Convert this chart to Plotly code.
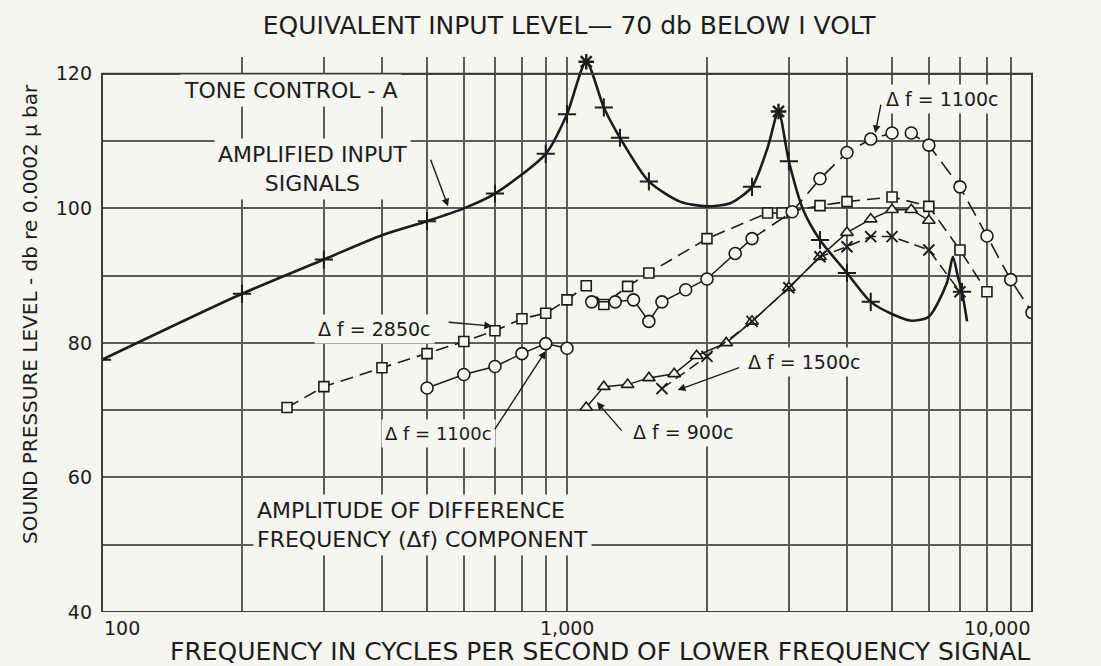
import numpy as np
import plotly.graph_objects as go

# ---------------- data ----------------
# Amplified input signals (tone control A) - smooth curve readings
input_line_f = [100, 200, 300, 400, 500, 600, 700, 900, 1000, 1100, 1200, 1300, 1500,
                1750, 2000, 2250, 2500, 2700, 2850, 3000, 3220, 3500, 4000, 4500, 5000,
                5500, 6000, 6560, 6760, 6930, 7070, 7250]
input_line_db = [77.5, 87.3, 92.4, 96.0, 98.1, 100.0, 102.2, 108.1, 114.0, 121.8, 115.0,
                 110.5, 104.0, 101.0, 100.3, 100.8, 103.2, 109.0, 114.4, 107.0, 99.8, 95.3,
                 90.4, 86.1, 84.3, 83.3, 83.9, 88.9, 92.8, 89.8, 87.6, 83.2]
# measured points on that curve
input_mark_f = [100, 200, 300, 500, 700, 900, 1000, 1200, 1300, 1500, 2500, 3000, 3500,
                4000, 4500, 7070]
input_mark_db = [77.5, 87.3, 92.4, 98.1, 102.2, 108.1, 114.0, 115.0, 110.5, 104.0, 103.2,
                 107.0, 95.3, 90.4, 86.1, 87.6]
input_peak_f = [1100, 2850]
input_peak_db = [121.8, 114.4]

# delta f = 2850 c (squares)
sq_f = [250, 300, 400, 500, 600, 700, 800, 900, 1000, 1100, 1200, 1350, 1500, 2000, 2700,
        2900, 3500, 4000, 5000, 6000, 7000, 8000]
sq_db = [70.4, 73.5, 76.3, 78.4, 80.2, 81.8, 83.6, 84.4, 86.4, 88.5, 85.7, 88.4, 90.4, 95.5,
         99.3, 99.3, 100.4, 101.0, 101.7, 100.3, 93.8, 87.6]

# delta f = 1100 c, low range (circles)
c1_f = [500, 600, 700, 800, 900, 1000]
c1_db = [73.3, 75.3, 76.5, 78.4, 79.9, 79.2]

# delta f = 1100 c, high range (circles)
c2_f = [1130, 1270, 1390, 1500, 1600, 1800, 2000, 2300, 2500, 3050, 3500, 4000, 4500,
        5000, 5500, 6000, 7000, 8000, 9000, 10000]
c2_db = [86.1, 86.1, 86.4, 83.2, 86.1, 87.9, 89.5, 93.3, 95.5, 99.5, 104.4, 108.3, 110.3,
         111.2, 111.2, 109.4, 103.2, 95.9, 89.4, 84.5]

# delta f = 900 c (triangles)
tr_f = [1100, 1200, 1350, 1500, 1700, 1900, 2200, 2500, 3000, 3500, 4000, 4500, 5000,
        5500, 6000]
tr_db = [70.4, 73.5, 73.8, 74.8, 75.4, 78.1, 80.0, 83.2, 88.2, 92.8, 96.4, 98.4, 99.8,
         99.8, 98.2]

# delta f = 1500 c (x marks)
xm_f = [1600, 2000, 2500, 3000, 3500, 4000, 4500, 5000, 6000, 7000]
xm_db = [73.2, 78.0, 83.2, 88.2, 92.8, 94.3, 95.8, 95.8, 93.8, 87.6]

x_tick_vals = [100, 1000, 10000]
x_tick_text = ["100", "1,000", "10,000"]
x_minor_vals = [200, 300, 400, 500, 600, 700, 800, 900,
                2000, 3000, 4000, 5000, 6000, 7000, 8000, 9000]
y_tick_vals = [40, 60, 80, 100, 120]

# ---------------- styling ----------------
BG = "#f5f5f2"
INK = "#1c1c1c"
GRID = "#5c5c5c"
FONT = "DejaVu Sans"

fig = go.Figure()


def open_marker(symbol, size):
    return dict(symbol=symbol, size=size, color=BG, line=dict(color=INK, width=1.6))


fig.add_trace(go.Scatter(x=sq_f, y=sq_db, mode="lines+markers", name="Δf = 2850c",
                         line=dict(color=INK, width=1.6, dash="13px,7px"),
                         marker=open_marker("square", 10), showlegend=False))
fig.add_trace(go.Scatter(x=c1_f, y=c1_db, mode="lines+markers", name="Δf = 1100c",
                         line=dict(color=INK, width=1.5),
                         marker=open_marker("circle", 12), showlegend=False))
split = c2_f.index(2500)
fig.add_trace(go.Scatter(x=c2_f[:split + 1], y=c2_db[:split + 1], mode="lines",
                         line=dict(color=INK, width=1.5), showlegend=False))
fig.add_trace(go.Scatter(x=c2_f[split:], y=c2_db[split:], mode="lines",
                         line=dict(color=INK, width=1.6, dash="16px,8px"), showlegend=False))
fig.add_trace(go.Scatter(x=c2_f, y=c2_db, mode="markers", name="Δf = 1100c",
                         marker=open_marker("circle", 12), showlegend=False))
fig.add_trace(go.Scatter(x=tr_f, y=tr_db, mode="lines+markers", name="Δf = 900c",
                         line=dict(color=INK, width=1.5),
                         marker=open_marker("triangle-up", 11), showlegend=False))
fig.add_trace(go.Scatter(x=xm_f, y=xm_db, mode="lines+markers", name="Δf = 1500c",
                         line=dict(color=INK, width=1.5, dash="11px,6px"),
                         marker=dict(symbol="x-thin", size=11, line=dict(color=INK, width=2)),
                         showlegend=False))
fig.add_trace(go.Scatter(x=input_line_f, y=input_line_db, mode="lines",
                         line=dict(color=INK, width=2.6, shape="spline", smoothing=0.7),
                         showlegend=False))
fig.add_trace(go.Scatter(x=input_mark_f, y=input_mark_db, mode="markers",
                         marker=dict(symbol="cross-thin", size=13, line=dict(color=INK, width=2)),
                         showlegend=False))
fig.add_trace(go.Scatter(x=input_peak_f, y=input_peak_db, mode="markers", cliponaxis=False,
                         marker=dict(symbol="asterisk", size=13, line=dict(color=INK, width=2.4)),
                         showlegend=False))

L = np.log10


def label(text, f, y, size, xanchor="left", align="left"):
    fig.add_annotation(x=L(f), y=y, xref="x", yref="y", text=text, showarrow=False,
                       xanchor=xanchor, yanchor="middle", align=align, bgcolor=BG,
                       borderpad=3, font=dict(family=FONT, size=size, color=INK))


def arrow(f, y, ax, ay):
    fig.add_annotation(x=L(f), y=y, xref="x", yref="y", text="", showarrow=True,
                       ax=ax, ay=ay, arrowhead=2, arrowsize=1.1, arrowwidth=1.4,
                       arrowcolor=INK, standoff=0, startstandoff=0)


label("TONE CONTROL - A", 147, 117.5, 22)
label("AMPLIFIED INPUT<br>SIGNALS", 283, 105.9, 22, xanchor="center", align="center")
arrow(555, 100.3, -18, -48)

label("Δ f = 2850c", 285, 82.1, 19)
arrow(690, 82.5, -45, -4)

label("Δ f = 1100c", 398, 66.6, 18)
arrow(900, 78.8, -52, 80)

label("Δ f = 1100c", 4760, 116.3, 19)
arrow(4600, 111.2, 6, -30)

label("Δ f = 1500c", 2400, 77.2, 19)
arrow(1730, 73.0, 63, -23)

label("Δ f = 900c", 1360, 66.8, 19)
arrow(1160, 71.2, 26, 30)

label("AMPLITUDE OF DIFFERENCE<br>FREQUENCY (Δf) COMPONENT", 211, 53.0, 22)

# x tick labels, lettered like the original: first flush left, last flush right
for i, (v, t) in enumerate(zip(x_tick_vals, x_tick_text)):
    anchor = "left" if i == 0 else ("right" if i == len(x_tick_vals) - 1 else "center")
    fig.add_annotation(x=L(v), y=0, xref="x", yref="paper", yshift=-16, text=t,
                       showarrow=False, xanchor=anchor, yanchor="middle",
                       font=dict(family=FONT, size=19, color=INK))

# plot frame
fig.add_shape(type="rect", xref="paper", yref="y", x0=0, x1=1, y0=40, y1=120,
              line=dict(color="#3c3c3c", width=2), layer="above")

# axis titles (placed like the hand-lettered originals)
fig.add_annotation(text="FREQUENCY IN CYCLES PER SECOND OF LOWER FREQUENCY SIGNAL",
                   xref="paper", yref="paper", x=0.5355, y=-0.0703,
                   xanchor="center", yanchor="middle", showarrow=False,
                   font=dict(family=FONT, size=25, color=INK))
fig.add_annotation(text="SOUND PRESSURE LEVEL - db re 0.0002 μ bar",
                   xref="paper", yref="paper", x=-0.0774, y=0.537, textangle=-90,
                   xanchor="center", yanchor="middle", showarrow=False,
                   font=dict(family=FONT, size=20, color=INK))

fig.update_layout(
    width=1101, height=666,
    margin=dict(l=102, r=69, t=57, b=54),
    paper_bgcolor=BG, plot_bgcolor=BG,
    font=dict(family=FONT, color=INK),
    title=dict(text="EQUIVALENT INPUT LEVEL— 70 db BELOW I VOLT",
               x=0.517, y=0.9625, xanchor="center", yanchor="middle",
               font=dict(family=FONT, size=25, color=INK)),
    xaxis=dict(type="log", range=[2, 4], tickmode="array", tickvals=x_tick_vals,
               ticktext=x_tick_text, showticklabels=False,
               showline=False, zeroline=False, ticks="", automargin=False,
               showgrid=True, gridcolor=GRID, gridwidth=1.5,
               minor=dict(tickmode="array", tickvals=x_minor_vals, showgrid=True,
                          gridcolor=GRID, gridwidth=1.5, ticks="")),
    yaxis=dict(range=[40, 122.5], tickmode="array", tickvals=y_tick_vals,
               showline=False, zeroline=False, ticks="", automargin=False,
               ticklabelstandoff=9,
               showgrid=True, gridcolor=GRID, gridwidth=1.5,
               minor=dict(dtick=10, tick0=40, showgrid=True, gridcolor=GRID,
                          gridwidth=1.5, ticks=""),
               tickfont=dict(family=FONT, size=19, color=INK)),
)

fig.write_html("out.html", config={"displayModeBar": False},
               post_script="document.body.style.margin='0px';"
                           "document.body.style.overflow='hidden';")
